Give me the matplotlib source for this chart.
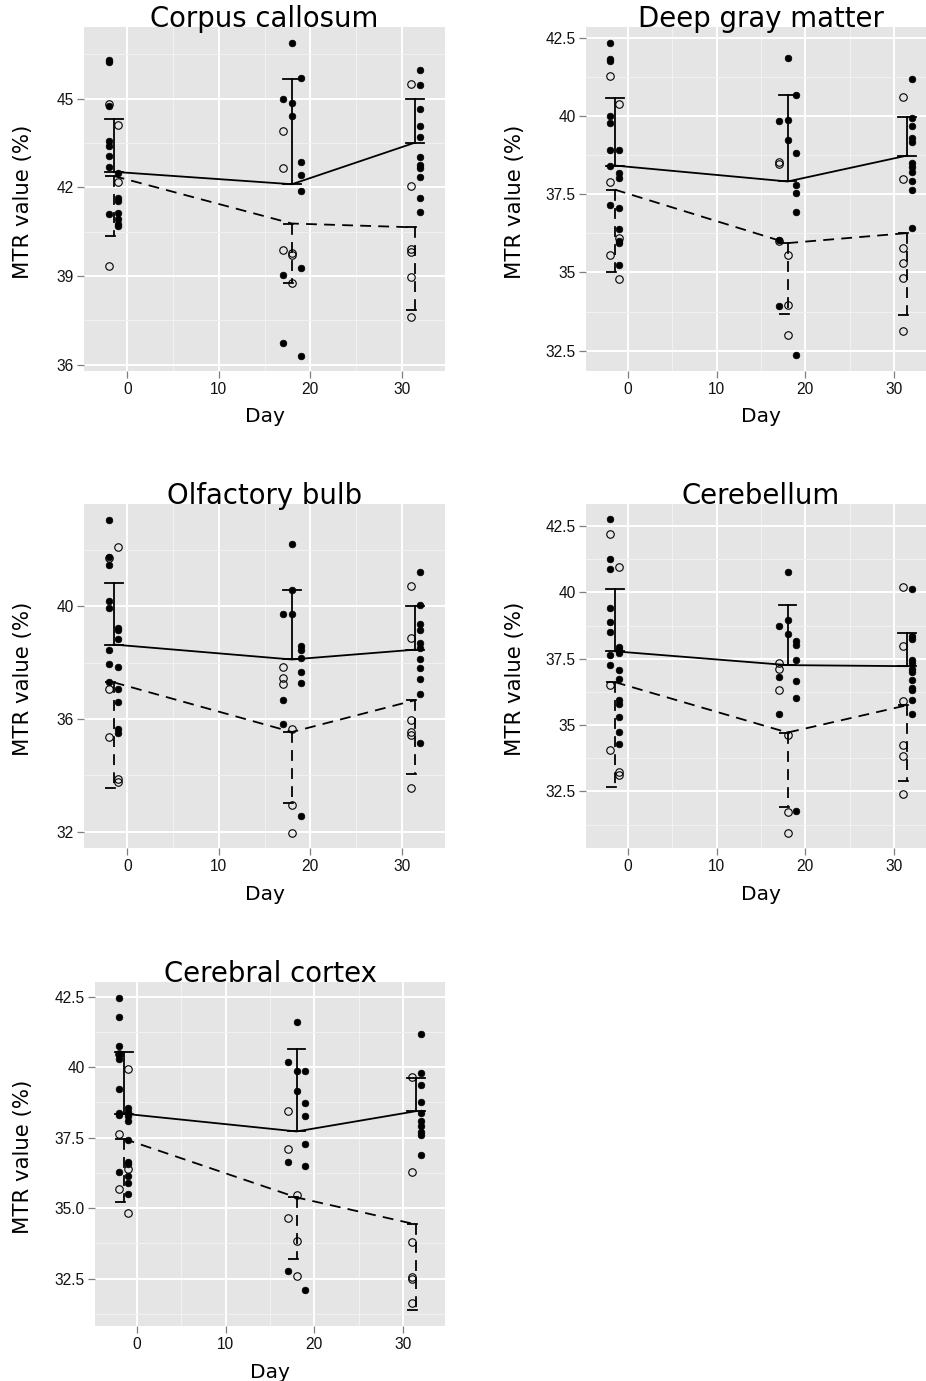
import matplotlib
matplotlib.use('agg')
import matplotlib.pyplot as plt

# --- data (MTR value %, grouped by scan day) ---
bar_days = [-1.5, 18, 31.5]

# Corpus callosum
cc_filled = {-2: [46.31, 46.25, 44.75, 43.58, 43.40, 43.06, 42.70, 41.10],
             -1: [42.50, 41.65, 41.55, 41.12, 40.92, 40.78, 40.69],
             17: [44.98, 39.04, 36.75],
             18: [46.90, 44.86, 44.41],
             19: [45.69, 42.86, 42.42, 41.89, 39.26, 36.30],
             32: [45.96, 45.46, 44.65, 44.07, 43.70, 43.04, 42.76, 42.65, 42.34, 41.63, 41.16]}
cc_open = {-2: [44.84, 39.34],
           -1: [44.10, 42.17],
           17: [43.91, 42.67, 39.87],
           18: [39.77, 39.71, 38.77],
           31: [45.49, 42.06, 39.92, 39.82, 38.98, 37.62]}
cc_mean_solid = [42.53, 42.11, 43.52]
cc_upper_solid = [44.31, 45.67, 45.00]
cc_mean_dash = [42.39, 40.78, 40.65]
cc_lower_dash = [40.35, 38.77, 37.87]

# Deep gray matter
dgm_filled = {-2: [42.35, 41.82, 41.75, 40.01, 39.78, 38.93, 38.42, 37.17],
              -1: [38.92, 38.17, 38.02, 37.06, 36.40, 36.02, 35.93, 35.23],
              17: [39.85, 36.05, 33.94],
              18: [41.86, 39.88, 39.24],
              19: [40.67, 38.82, 37.81, 37.54, 36.92, 32.35],
              32: [41.18, 39.94, 39.69, 39.30, 39.16, 38.50, 38.37, 38.20, 37.94, 37.64, 36.42]}
dgm_open = {-2: [41.27, 37.90, 35.56],
            -1: [40.38, 36.11, 34.79],
            17: [38.54, 38.48, 36.02],
            18: [35.57, 33.97, 33.01],
            31: [40.62, 38.00, 35.78, 35.31, 34.82, 33.13]}
dgm_mean_solid = [38.42, 37.91, 38.74]
dgm_upper_solid = [40.59, 40.68, 39.96]
dgm_mean_dash = [37.65, 35.94, 36.26]
dgm_lower_dash = [35.00, 33.67, 33.65]

# Olfactory bulb
ob_filled = {-2: [43.07, 41.75, 41.46, 40.19, 39.95, 38.43, 37.94, 37.30],
             -1: [39.21, 39.17, 38.82, 37.85, 37.06, 36.61, 35.65, 35.52],
             17: [39.73, 36.69, 35.82],
             18: [42.20, 40.59, 39.72],
             19: [38.58, 38.46, 38.15, 37.67, 37.26, 32.55],
             32: [41.21, 40.04, 39.35, 39.15, 38.68, 38.52, 38.13, 37.81, 37.41, 36.88, 35.15]}
ob_open = {-2: [41.69, 37.05, 35.35],
           -1: [42.10, 33.89, 33.77],
           17: [37.85, 37.44, 37.23],
           18: [35.63, 32.97, 31.97],
           31: [40.72, 38.88, 35.96, 35.54, 35.43, 33.54]}
ob_mean_solid = [38.64, 38.11, 38.46]
ob_upper_solid = [40.83, 40.59, 40.00]
ob_mean_dash = [37.30, 35.54, 36.67]
ob_lower_dash = [33.54, 33.03, 34.04]

# Cerebellum
cb_filled = {-2: [42.75, 41.25, 40.87, 39.40, 38.89, 38.51, 37.63, 37.26],
             -1: [37.95, 37.82, 37.72, 37.07, 36.74, 35.94, 35.81, 35.31, 34.74, 34.30],
             17: [38.74, 36.81, 35.43],
             18: [40.75, 38.95, 38.43],
             19: [38.15, 38.03, 37.47, 36.66, 36.02, 31.77],
             32: [40.11, 38.34, 38.26, 37.47, 37.34, 37.13, 37.00, 36.69, 36.40, 36.31, 35.96, 35.42]}
cb_open = {-2: [42.19, 36.50, 34.08],
           -1: [40.94, 33.23, 33.11],
           17: [37.35, 37.10, 36.34],
           18: [34.61, 31.72, 30.94],
           31: [40.19, 37.98, 35.90, 34.24, 33.82, 32.42]}
cb_mean_solid = [37.78, 37.26, 37.22]
cb_upper_solid = [40.11, 39.52, 38.48]
cb_mean_dash = [36.62, 34.72, 35.75]
cb_lower_dash = [32.66, 31.91, 32.88]

# Cerebral cortex
ctx_filled = {-2: [42.47, 41.79, 40.74, 40.45, 40.30, 39.23, 38.37, 38.29, 36.28],
              -1: [38.56, 38.40, 38.28, 38.10, 37.40, 36.62, 36.55, 36.15, 35.90, 35.51],
              17: [40.18, 36.65, 32.76],
              18: [41.59, 39.85, 39.17],
              19: [39.85, 38.72, 38.26, 37.26, 36.48, 32.08],
              32: [41.18, 39.80, 39.35, 38.77, 38.37, 38.09, 37.90, 37.70, 37.58, 36.87]}
ctx_open = {-2: [40.48, 37.64, 35.67],
            -1: [39.94, 36.38, 34.84],
            17: [38.44, 37.08, 34.65],
            18: [35.45, 33.85, 32.59],
            31: [39.65, 36.29, 33.79, 32.55, 32.50, 31.63]}
ctx_mean_solid = [38.35, 37.72, 38.44]
ctx_upper_solid = [40.52, 40.63, 39.61]
ctx_mean_dash = [37.46, 35.38, 34.42]
ctx_lower_dash = [35.21, 33.21, 31.37]

x_ticks = [0, 10, 20, 30]

W, H = 926, 1381
fig = plt.figure(figsize=(W / 100, H / 100), dpi=100)
plt.rcParams['font.family'] = ['DejaVu Sans']

BG = '#E5E5E5'
GREY_TICK = '#7F7F7F'

# (title, filled, open, means..., pixel box, ylim, yticks, ytick labels, yminor, ylabel x)
panels = [
    ("Corpus callosum", cc_filled, cc_open, cc_mean_solid, cc_upper_solid, cc_mean_dash, cc_lower_dash,
     (84, 27, 445, 371), (35.79, 47.43), [36, 39, 42, 45], ["36", "39", "42", "45"],
     [37.5, 40.5, 43.5, 46.5], 23),
    ("Deep gray matter", dgm_filled, dgm_open, dgm_mean_solid, dgm_upper_solid, dgm_mean_dash, dgm_lower_dash,
     (586, 27, 936, 371), (31.85, 42.85), [32.5, 35, 37.5, 40, 42.5], ["32.5", "35", "37.5", "40", "42.5"],
     [33.75, 36.25, 38.75, 41.25], 515),
    ("Olfactory bulb", ob_filled, ob_open, ob_mean_solid, ob_upper_solid, ob_mean_dash, ob_lower_dash,
     (84, 504, 445, 848), (31.43, 43.62), [32, 36, 40], ["32", "36", "40"],
     [34, 38, 42], 23),
    ("Cerebellum", cb_filled, cb_open, cb_mean_solid, cb_upper_solid, cb_mean_dash, cb_lower_dash,
     (586, 504, 936, 848), (30.37, 43.33), [32.5, 35, 37.5, 40, 42.5], ["32.5", "35", "37.5", "40", "42.5"],
     [31.25, 33.75, 36.25, 38.75, 41.25], 515),
    ("Cerebral cortex", ctx_filled, ctx_open, ctx_mean_solid, ctx_upper_solid, ctx_mean_dash, ctx_lower_dash,
     (95, 982, 445, 1326), (30.82, 43.02), [32.5, 35.0, 37.5, 40, 42.5], ["32.5", "35.0", "37.5", "40", "42.5"],
     [31.25, 33.75, 36.25, 38.75, 41.25], 23),
]

dash = (0, (6, 4))
cap = 1.0

for (title, filled, opened, m_s, up_s, m_d, lo_d, box, ylim, yt, ytl, ymin_t, ylab_x) in panels:
    x0, y0, x1, y1 = box
    ax = fig.add_axes([x0 / W, 1 - y1 / H, (x1 - x0) / W, (y1 - y0) / H])
    ax.set_facecolor(BG)
    for s in ax.spines.values():
        s.set_visible(False)
    ax.set_xlim(-4.75, 34.75)
    ax.set_ylim(*ylim)
    ax.set_xticks(x_ticks, [str(t) for t in x_ticks], fontfamily='Liberation Sans')
    ax.set_yticks(yt, ytl, fontfamily='Liberation Sans')
    ax.set_xticks([5, 15, 25], minor=True)
    ax.set_yticks(ymin_t, minor=True)
    ax.grid(which='major', color='white', lw=1.4)
    ax.grid(which='minor', color='#F2F2F2', lw=0.7)
    ax.set_axisbelow(True)
    ax.tick_params(which='major', length=5, width=0.9, color=GREY_TICK,
                   labelsize=11.2, labelcolor='#111111')
    ax.tick_params(axis='x', which='major', pad=3)
    ax.tick_params(axis='y', which='major', pad=2.5)
    ax.tick_params(which='minor', length=0)

    for day, vals in filled.items():
        ax.plot([day] * len(vals), vals, 'o', ms=4.8, mfc='black', mec='black', mew=0.5, zorder=3)
    for day, vals in opened.items():
        ax.plot([day] * len(vals), vals, 'o', ms=5.4, mfc='none', mec='black', mew=0.8, zorder=3)

    # mean lines
    ax.plot(bar_days, m_s, color='black', lw=1.3, zorder=4)
    ax.plot(bar_days, m_d, color='black', lw=1.3, ls=dash, zorder=4)
    # one-sided error bars
    for xd, m, u in zip(bar_days, m_s, up_s):
        ax.plot([xd, xd], [m, u], color='black', lw=1.3, zorder=4)
        ax.plot([xd - cap, xd + cap], [u, u], color='black', lw=1.3, zorder=4)
        ax.plot([xd - cap, xd + cap], [m, m], color='black', lw=1.3, zorder=4)
    for xd, m, lo in zip(bar_days, m_d, lo_d):
        ax.plot([xd, xd], [m, lo], color='black', lw=1.3, ls=dash, zorder=4)
        ax.plot([xd - cap, xd + cap], [lo, lo], color='black', lw=1.3, ls=dash, zorder=4)
        ax.plot([xd - cap, xd + cap], [m, m], color='black', lw=1.3, ls=dash, zorder=4)

    ax.text(0.5, 1.0, title, transform=ax.transAxes, ha='center', va='baseline',
            fontsize=19.8, color='black')
    fig.text(ylab_x / W, 1 - ((y0 + y1) / 2 + 3) / H, "MTR value (%)", rotation=90,
             ha='center', va='center', fontsize=15.3)
    fig.text(((x0 + x1) / 2) / W, 1 - (y1 + 46) / H, "Day", ha='center', va='center', fontsize=14.5)

fig.savefig('out.png', dpi=100)
